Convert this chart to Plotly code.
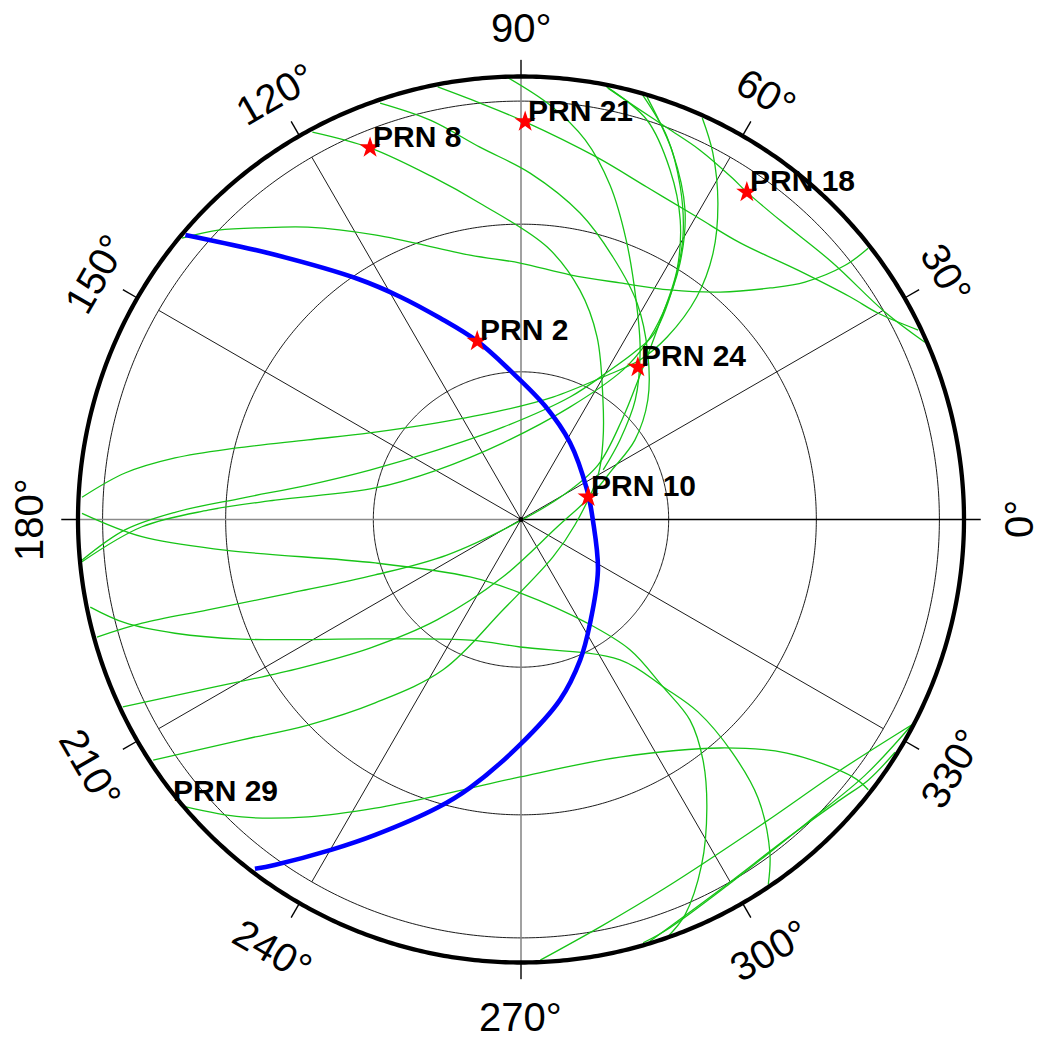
import math
import plotly.graph_objects as go

# ---------------- data: azimuth (deg, 0 = right, counter-clockwise) / elevation (deg) ----------------
PRN8_AZ = [118.3, 112.1, 104.4, 97.4, 84.5, 75.6, 67.4, 55.5, 44.1, 30.0, 354.2, 310.5, 258.8, 242.6, 231.5, 224.0, 218.3, 213.2]
PRN8_EL = [0.6, 8.5, 18.2, 25.2, 34.4, 41.9, 49.8, 60.6, 66.8, 71.9, 79.0, 80.0, 71.3, 55.6, 42.4, 29.9, 17.8, 0.7]

TRK_A_AZ = [108.7, 102.8, 96.3, 88.5, 79.1, 70.7, 61.8, 52.7, 43.3, 34.9, 28.5, 18.1, 348.2, 252.6, 230.1, 220.4, 213.9, 208.0, 205.2]
TRK_A_EL = [0.7, 6.8, 13.9, 19.6, 26.6, 33.5, 40.1, 47.5, 54.6, 61.8, 69.0, 75.3, 82.5, 77.8, 63.4, 49.7, 35.9, 16.2, 0.6]

TRK_B_AZ = [91.8, 86.0, 80.4, 75.1, 69.4, 62.3, 54.9, 46.3, 38.8, 31.1]
TRK_B_EL = [0.1, 5.6, 11.8, 19.7, 29.3, 39.7, 47.9, 56.4, 64.2, 70.5]

TRK_C_AZ = [177.1, 173.3, 169.9, 166.0, 159.5, 150.2, 131.0, 99.3, 75.4, 60.1, 53.3, 51.3, 51.7, 54.2, 58.1, 62.4, 65.7]
TRK_C_EL = [0.7, 9.0, 18.6, 30.1, 43.8, 54.6, 64.0, 67.5, 64.3, 56.6, 49.6, 42.5, 32.4, 23.3, 14.3, 5.9, 0.5]

TRK_D_AZ = [185.3, 181.5, 178.8, 175.6, 170.8, 161.9, 140.4, 101.0, 68.2, 59.2, 55.8, 54.4, 56.8, 60.2, 64.4, 69.1, 74.0]
TRK_D_EL = [0.4, 9.5, 19.7, 33.2, 46.2, 57.7, 67.9, 70.9, 63.2, 54.7, 48.8, 43.9, 33.6, 23.8, 15.1, 6.8, 0.3]

TRK_E_AZ = [185.5, 181.1, 178.3, 175.5, 167.8, 149.5, 103.2, 66.5, 55.7, 54.6, 55.5, 58.2, 62.1, 67.5, 73.4]
TRK_E_EL = [0.4, 13.0, 26.4, 39.9, 59.7, 70.2, 74.0, 65.1, 53.2, 46.5, 39.1, 28.7, 18.8, 9.4, 0.4]

TRK_F_AZ = [195.5, 195.3, 196.1, 197.7, 200.8, 205.6, 333.4, 30.1, 35.3, 44.6, 50.5, 54.9, 58.0, 62.0, 66.9, 72.5, 78.8]
TRK_F_EL = [0.6, 10.2, 23.8, 40.8, 58.3, 73.3, 89.8, 79.7, 70.8, 61.2, 52.0, 40.9, 30.2, 21.1, 12.8, 4.9, 0.4]

PRN21_AZ = [100.9, 95.6, 89.4, 78.2, 69.2, 59.8, 51.6, 42.0, 34.1, 30.0, 25.5]
PRN21_EL = [0.5, 5.0, 9.2, 14.8, 17.8, 18.9, 18.3, 14.3, 9.3, 6.2, 0.6]

PRN18_AZ = [78.6, 74.9, 69.5, 64.2, 58.3, 55.4, 49.1, 39.6, 29.7, 23.7]
PRN18_EL = [0.6, 2.8, 5.1, 6.6, 8.4, 9.2, 9.6, 8.0, 4.9, 0.4]

TRK_G_AZ = [140.3, 136.3, 130.1, 126.1, 117.2, 100.9, 90.2, 78.7, 67.3, 57.0, 48.8, 42.9, 39.9, 38.1, 38.0]
TRK_G_EL = [0.5, 4.9, 12.4, 16.5, 25.0, 35.3, 37.9, 39.3, 37.9, 34.4, 28.6, 20.9, 14.8, 6.3, 0.5]

TRK_H_AZ = [179.2, 182.6, 185.9, 196.6, 228.4, 269.2, 302.5, 309.9, 310.3, 310.1, 307.1, 302.8, 297.6, 292.5, 289.3]
TRK_H_EL = [0.8, 12.9, 29.5, 59.1, 74.4, 75.1, 65.1, 55.5, 45.4, 36.7, 28.7, 20.3, 10.8, 3.0, 0.1]

TRK_I_AZ = [191.5, 194.6, 198.2, 203.2, 219.3, 247.1, 269.6, 305.2, 310.5, 312.6, 312.2, 310.4, 306.8, 304.1]
TRK_I_EL = [0.7, 6.8, 16.0, 28.3, 51.7, 63.4, 64.1, 55.1, 45.0, 36.9, 26.2, 15.7, 5.6, 0.4]

TRK_J_AZ = [220.6, 226.8, 234.4, 243.2, 255.4, 269.8, 292.6, 311.1, 318.7, 322.2, 322.1]
TRK_J_EL = [0.3, 7.1, 15.7, 24.3, 32.6, 37.7, 37.7, 28.4, 18.1, 4.6, 0.6]

TRK_K_AZ = [272.5, 281.0, 291.3, 308.9, 321.5, 332.3]
TRK_K_EL = [0.4, 5.7, 9.6, 11.0, 7.7, 0.3]

TRK_L_AZ = [286.1, 290.0, 300.2, 313.5, 323.4, 332.3]
TRK_L_EL = [0.5, 1.7, 4.8, 5.3, 2.9, 0.3]

TRK_M_AZ = [287.0, 298.2, 310.4, 318.7, 323.1, 328.1]
TRK_M_EL = [0.4, 4.6, 5.6, 3.7, 1.8, 0.5]

BLUE_AZ = [139.7, 132.9, 124.1, 118.5, 111.9, 103.8, 93.9, 78.1, 57.4, 24.1, 359.6, 326.7, 303.7, 292.8,
           282.2, 269.7, 259.2, 253.8, 245.2, 240.2, 234.5, 232.7]
BLUE_EL = [0.6, 16.6, 31.0, 38.5, 45.9, 52.7, 59.8, 66.4, 71.5, 75.3, 75.4, 71.3, 64.7, 59.0,
           52.5, 44.2, 34.5, 29.0, 19.4, 12.7, 3.8, 0.8]

SAT_NAMES = ["PRN 8", "PRN 21", "PRN 18", "PRN 2", "PRN 24", "PRN 10", "PRN 29"]
SAT_AZ = [112.1, 89.4, 55.4, 103.8, 52.5, 18.6, 218.8]
SAT_EL = [8.5, 9.2, 9.2, 52.7, 51.0, 75.6, -1.5]

RING_EL = [60, 30, 5]              # thin elevation rings
SPOKE_AZ = list(range(0, 360, 30))  # spokes / tick angles
AZ_LABELS = [f"{a}°" for a in SPOKE_AZ]

GREEN_TRACKS = [
    (PRN8_AZ, PRN8_EL), (TRK_A_AZ, TRK_A_EL), (TRK_B_AZ, TRK_B_EL), (TRK_C_AZ, TRK_C_EL),
    (TRK_D_AZ, TRK_D_EL), (TRK_E_AZ, TRK_E_EL), (TRK_F_AZ, TRK_F_EL), (PRN21_AZ, PRN21_EL),
    (PRN18_AZ, PRN18_EL), (TRK_G_AZ, TRK_G_EL), (TRK_H_AZ, TRK_H_EL), (TRK_I_AZ, TRK_I_EL),
    (TRK_J_AZ, TRK_J_EL), (TRK_K_AZ, TRK_K_EL), (TRK_L_AZ, TRK_L_EL), (TRK_M_AZ, TRK_M_EL),
]

# ---------------- styling / layout constants ----------------
W, H = 1040, 1042
CX, CY = 521.0, 519.5        # centre of the plot in pixels (from top-left)
R_HORIZON = 443.0            # pixels for zenith distance 90
R_MAX = 93.5                 # radial axis range (zenith distance)
TICK_END = 93.4
GREEN = "#17c417"
FONT = "Liberation Sans, Arial, Helvetica, sans-serif"

r_px = R_MAX / 90.0 * R_HORIZON
dom_x = [(CX - r_px) / W, (CX + r_px) / W]
dom_y = [((H - CY) - r_px) / H, ((H - CY) + r_px) / H]


def to_paper(az, zen_r):
    """paper coordinates of a polar position (same geometry as the polar domain)."""
    rr = zen_r / 90.0 * R_HORIZON
    px = CX + rr * math.cos(math.radians(az))
    py = CY - rr * math.sin(math.radians(az))
    return px / W, (H - py) / H


fig = go.Figure()


def add_line(r, th, color, width, shape="linear"):
    fig.add_trace(go.Scatterpolar(r=r, theta=th, mode="lines",
                                  line=dict(color=color, width=width, shape=shape),
                                  hoverinfo="skip", showlegend=False))


circle_th = [i * 0.5 for i in range(721)]
for e in RING_EL:
    add_line([90 - e] * len(circle_th), circle_th, "black", 0.9)

for a in SPOKE_AZ:
    if a in (90, 180, 270):
        add_line([0, 90], [a, a], "#8a8a8a", 1.6)
    elif a == 0:
        add_line([0, 90], [a, a], "black", 1.4)
    else:
        add_line([0, 90 - RING_EL[-1]], [a, a], "black", 0.9)

for az, el in GREEN_TRACKS:
    add_line([90 - e for e in el], az, GREEN, 1.3, "spline")

add_line([90 - e for e in BLUE_EL], BLUE_AZ, "#0000ff", 4.6, "spline")

# horizon circle and outer ticks
add_line([90] * len(circle_th), circle_th, "black", 4.3)
for a in SPOKE_AZ:
    add_line([90, TICK_END], [a, a], "black", 1.4)

# centre dot
fig.add_trace(go.Scatterpolar(r=[0], theta=[0], mode="markers",
                              marker=dict(size=5, color="black"), hoverinfo="skip", showlegend=False))

# satellites (stars only for those above the horizon)
vis = [i for i, e in enumerate(SAT_EL) if e >= 0]
fig.add_trace(go.Scatterpolar(r=[90 - SAT_EL[i] for i in vis], theta=[SAT_AZ[i] for i in vis],
                              mode="markers",
                              marker=dict(symbol="star", size=16, color="red", line=dict(width=0)),
                              hoverinfo="skip", showlegend=False))

annotations = []
# satellite labels: text baseline at the satellite position, starting just right of it
for name, az, el in zip(SAT_NAMES, SAT_AZ, SAT_EL):
    x, y = to_paper(az, 90 - el)
    annotations.append(dict(x=x, y=y, xref="paper", yref="paper", text=f"<b>{name}</b>",
                            showarrow=False, xanchor="left", yanchor="bottom", xshift=1, yshift=-7,
                            font=dict(family=FONT, size=30, color="black")))

# azimuth labels, rotated tangentially (GMT style)
for a, lab in zip(SPOKE_AZ, AZ_LABELS):
    if 30 <= a <= 180:
        rot = a - 90
        rl = 491.5
    else:
        rot = (a - 270) if a >= 210 else 90
        rl = 497.5
    x, y = to_paper(a, rl / R_HORIZON * 90.0)
    annotations.append(dict(x=x, y=y, xref="paper", yref="paper",
                            text=lab, showarrow=False, xanchor="center", yanchor="middle",
                            textangle=-rot, font=dict(family=FONT, size=40, color="black")))

fig.update_layout(
    width=W, height=H, margin=dict(l=0, r=0, t=0, b=0, pad=0),
    paper_bgcolor="white", plot_bgcolor="white", showlegend=False,
    annotations=annotations,
    polar=dict(domain=dict(x=dom_x, y=dom_y), bgcolor="white",
               radialaxis=dict(visible=False, range=[0, R_MAX]),
               angularaxis=dict(visible=False, rotation=0, direction="counterclockwise")),
)
fig.write_html("out.html")
